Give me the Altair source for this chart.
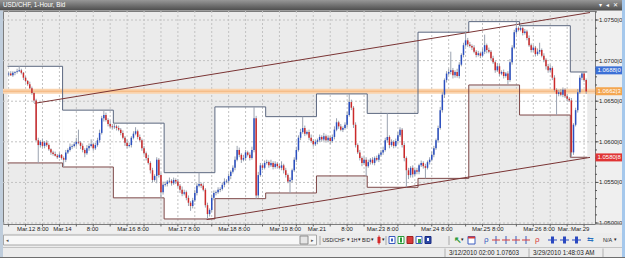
import altair as alt
import pandas as pd

FONT = "Liberation Sans"

# ---------------- data (prices in pips above 1.0000, e.g. 652 -> 1.0652) ----------------
first_open = 683
closes = [
    [684, 682, 685, 686, 687, 688, 685, 679, 675, 671, 666, 660, 651, 602, 596, 600, 595, 599, 596, 591, 587, 585, 583, 581, 584, 580],
    [578, 587, 590, 594, 595, 597, 600, 599, 595, 590, 586, 592, 595, 597, 592, 596, 602, 611, 629, 633, 627, 622, 619, 618],
    [619, 617, 615, 611, 605, 599, 595, 596, 605, 610, 613, 606, 602, 592, 586, 580, 574, 565, 553, 558, 578, 559, 538, 547],
    [548, 551, 552, 549, 553, 551, 546, 541, 536, 538, 531, 525, 521, 528, 537, 546, 548, 546, 541, 522, 511, 516, 531, 537],
    [538, 541, 542, 547, 551, 552, 558, 563, 568, 578, 590, 584, 578, 580, 587, 584, 580, 590, 629, 534, 559, 571, 568, 574],
    [575, 571, 574, 569, 573, 570, 568, 571, 565, 559, 551, 553, 565, 578, 590, 605, 612, 617, 610, 612, 605, 601, 597, 600],
    [602, 606, 603, 607, 602, 605, 601, 606, 615, 624, 619, 615, 617, 621, 633, 649, 642, 621, 596, 587, 580, 574, 578, 570],
    [575, 578, 574, 580, 578, 584, 587, 590, 602, 606, 596, 600, 595, 601, 608, 615, 596, 580, 565, 559, 568, 560, 565, 563],
    [571, 574, 570, 568, 575, 578, 584, 592, 602, 617, 639, 658, 676, 684, 686, 688, 682, 686, 681, 695, 707, 719, 725, 720],
    [718, 716, 711, 707, 709, 706, 711, 719, 713, 711, 703, 698, 688, 693, 684, 686, 681, 684, 676, 698, 716, 735, 740, 738],
    [740, 734, 736, 728, 719, 713, 716, 708, 711, 713, 706, 701, 693, 688, 691, 679, 664, 659, 661, 658, 664, 656, 653, 651],
    [587, 621, 639, 661, 679, 684, 676, 662],
]
wick_up = [
    [2, 3, 2, 1, 3, 5, 2, 1, 2, 1, 3, 2, 1, 2, 3, 2, 4, 2, 3, 2, 1, 2, 3, 2, 3, 1],
    [2, 3, 2, 4, 2, 3, 5, 15, 2, 3, 2, 4, 3, 6, 2, 3, 3, 4, 3, 6, 3, 2, 4, 3],
    [4, 2, 3, 2, 3, 2, 4, 3, 2, 3, 5, 2, 3, 2, 3, 2, 4, 2, 3, 2, 3, 2, 3, 4],
    [3, 2, 4, 2, 3, 2, 3, 2, 4, 3, 2, 3, 2, 3, 4, 3, 14, 2, 3, 2, 3, 2, 4, 3],
    [2, 3, 2, 3, 4, 2, 3, 2, 3, 4, 5, 3, 2, 4, 3, 2, 3, 4, 14, 3, 4, 3, 2, 3],
    [3, 2, 4, 2, 3, 2, 3, 5, 2, 3, 2, 3, 2, 3, 4, 3, 4, 14, 3, 2, 3, 4, 2, 3],
    [2, 3, 2, 4, 2, 3, 2, 3, 4, 5, 2, 3, 2, 3, 4, 10, 3, 2, 3, 2, 3, 2, 4, 3],
    [3, 2, 3, 2, 3, 2, 3, 4, 3, 29, 2, 3, 2, 3, 4, 3, 2, 3, 2, 3, 2, 3, 2, 3],
    [2, 3, 2, 3, 2, 3, 4, 3, 2, 3, 4, 3, 2, 3, 4, 23, 3, 2, 4, 3, 2, 3, 10, 3],
    [3, 2, 3, 2, 3, 2, 4, 13, 2, 3, 2, 3, 2, 4, 3, 2, 3, 2, 3, 4, 3, 3, 8, 2],
    [3, 2, 3, 2, 3, 2, 3, 2, 4, 9, 2, 3, 2, 3, 4, 2, 3, 2, 3, 4, 3, 2, 3, 2],
    [3, 2, 3, 4, 3, 2, 3, 2],
]
wick_dn = [
    [2, 1, 2, 3, 2, 1, 2, 3, 2, 2, 1, 2, 3, 1, 22, 3, 2, 3, 2, 2, 3, 2, 1, 2, 1, 2],
    [9, 3, 2, 2, 3, 2, 3, 2, 4, 3, 5, 2, 3, 2, 3, 2, 2, 3, 2, 4, 2, 3, 2, 3],
    [2, 3, 2, 3, 2, 4, 3, 2, 3, 2, 2, 3, 2, 3, 2, 3, 2, 4, 3, 2, 9, 3, 7, 3],
    [2, 3, 2, 3, 2, 3, 2, 4, 3, 2, 3, 4, 6, 3, 2, 3, 2, 3, 2, 3, 6, 3, 2, 3],
    [3, 2, 3, 2, 3, 2, 3, 4, 2, 3, 2, 3, 4, 2, 3, 2, 3, 2, 3, 4, 3, 2, 3, 2],
    [2, 3, 2, 3, 2, 3, 2, 3, 4, 3, 2, 14, 3, 2, 3, 2, 3, 2, 3, 2, 3, 2, 3, 2],
    [3, 2, 3, 2, 3, 2, 4, 2, 3, 2, 3, 2, 3, 2, 3, 2, 3, 4, 3, 2, 3, 4, 2, 12],
    [2, 3, 2, 3, 2, 3, 2, 3, 2, 3, 4, 2, 3, 2, 3, 2, 3, 4, 21, 5, 3, 4, 2, 3],
    [3, 2, 3, 13, 2, 3, 2, 3, 2, 3, 2, 3, 4, 3, 2, 3, 4, 3, 2, 3, 2, 3, 2, 3],
    [2, 3, 2, 3, 2, 3, 2, 3, 4, 2, 3, 2, 3, 2, 3, 2, 3, 2, 6, 2, 3, 2, 3, 2],
    [2, 3, 2, 3, 2, 3, 2, 3, 2, 3, 2, 3, 4, 3, 2, 3, 2, 26, 3, 2, 3, 2, 3, 2],
    [6, 3, 2, 3, 2, 3, 2, 3],
]
day_high = [693, 639, 623, 562, 643, 631, 659, 635, 735, 748, 743, 686]
day_low = [574, 569, 531, 505, 530, 537, 558, 544, 555, 670, 633, 581]

x_tick_pos = [3.9, 21.1, 36.9, 51.3, 75.4, 99.1, 123.3, 141.4, 157.2, 169.3, 194.9, 219.0, 243.2, 259.5]
x_tick_text = ["Mar.12 8:00", "Mar.14", "8:00", "Mar.16 8:00", "Mar.17 8:00", "Mar.18 8:00",
               "Mar.19 8:00", "Mar.21", "8:00", "Mar.23 8:00", "Mar.24 8:00", "Mar.25 8:00",
               "Mar.26 8:00", "Mar.:Mar.29"]
y_tick_vals = [1.0500, 1.0550, 1.0600, 1.0650, 1.0700, 1.0750]
y_tick_text = ["1.0500|0", "1.0550|0", "1.0600|0", "1.0650|0", "1.0700|0", "1.0750|0"]

trend_upper_x = [12.25, 274.8]
trend_upper_y = [1.06474, 1.07592]
trend_lower_x = [93.6, 274.8]
trend_lower_y = [1.05043, 1.05808]
bid_level = 1.06623

tag_vals = [1.06880, 1.06623, 1.05808]
tag_text = ["1.0688|0", "1.0662|3", "1.0580|8"]
tag_fill = ["#3b6fd6", "#f4a650", "#e03434"]

# ---------------- tables ----------------
rows = []
prev = first_open
idx = 0
starts = []
for cl, up, dn in zip(closes, wick_up, wick_dn):
    starts.append(idx)
    for c, u, w in zip(cl, up, dn):
        o = prev
        rows.append(dict(i=idx, o=1 + o / 1e4, c=1 + c / 1e4,
                         h=1 + (max(o, c) + u) / 1e4, l=1 + (min(o, c) - w) / 1e4,
                         dir="up" if c >= o else "down"))
        prev = c
        idx += 1
candles = pd.DataFrame(rows)

bx = [s - 0.5 for s in starts]
bx2 = [s + len(cl) - 0.5 for s, cl in zip(starts, closes)]
boxes = pd.DataFrame(dict(x=bx, x2=bx2, hi=[1 + v / 1e4 for v in day_high], lo=[1 + v / 1e4 for v in day_low]))
steps = pd.DataFrame(dict(x=bx + [bx2[-1]],
                          hi=[1 + v / 1e4 for v in day_high + [day_high[-1]]],
                          lo=[1 + v / 1e4 for v in day_low + [day_low[-1]]]))
trends = pd.DataFrame(dict(x=trend_upper_x + trend_lower_x, y=trend_upper_y + trend_lower_y,
                           g=["u", "u", "l", "l"]))
grid_x = pd.DataFrame({"g": list(range(0, 275, 8))})
grid_y = pd.DataFrame({"v": y_tick_vals})
minor_y = pd.DataFrame({"v": [round(1.050 + 0.001 * k, 3) for k in range(27)]})
ylab = pd.DataFrame({"v": y_tick_vals, "t": y_tick_text})
xlab = pd.DataFrame({"p": x_tick_pos, "t": x_tick_text})
tags = pd.DataFrame({"v": tag_vals, "t": tag_text, "f": tag_fill})
bid = pd.DataFrame({"v": [bid_level]})

W, H = 592, 213
XS = alt.Scale(domain=[-0.3, 274.8], nice=False, zero=False)
YS = alt.Scale(domain=[1.04988, 1.07611], nice=False, zero=False)


def X(f):
    return alt.X(f, type="quantitative", scale=XS, axis=None)


def Y(f):
    return alt.Y(f, type="quantitative", scale=YS, axis=None)


layers = []
layers.append(alt.Chart(boxes).mark_rect(fill="#ffffff").encode(
    x=X("x"), x2=alt.X2("x2"), y=Y("hi"), y2=alt.Y2("lo")))
layers.append(alt.Chart(grid_x).mark_rule(color="#c2c2c2", strokeDash=[2, 2], strokeWidth=1).encode(
    x=X("g"), y=alt.value(0), y2=alt.value(H)))
layers.append(alt.Chart(grid_y).mark_rule(color="#c2c2c2", strokeDash=[2, 2], strokeWidth=1).encode(
    y=Y("v"), x=alt.value(0), x2=alt.value(W)))
layers.append(alt.Chart(bid).mark_rule(color="#fad3ad", strokeWidth=5).encode(
    y=Y("v"), x=alt.value(0), x2=alt.value(W)))
layers.append(alt.Chart(bid).mark_rule(color="#f3b57c", strokeWidth=1).encode(
    y=Y("v"), x=alt.value(0), x2=alt.value(W)))
layers.append(alt.Chart(steps).mark_line(interpolate="step-after", color="#5c6880", strokeWidth=1).encode(
    x=X("x"), y=Y("hi")))
layers.append(alt.Chart(steps).mark_line(interpolate="step-after", color="#7e4848", strokeWidth=1).encode(
    x=X("x"), y=Y("lo")))
layers.append(alt.Chart(trends).mark_line(color="#7a3434", strokeWidth=1).encode(
    x=X("x"), y=Y("y"), detail="g:N"))
layers.append(alt.Chart(candles).mark_rule(color="#9aa2b0", strokeWidth=1).encode(
    x=X("i"), y=Y("l"), y2=alt.Y2("h")))
layers.append(alt.Chart(candles).mark_bar(size=1.5).encode(
    x=X("i"), y=Y("o"), y2=alt.Y2("c"),
    color=alt.Color("dir:N", scale=alt.Scale(domain=["up", "down"], range=["#2b4fc0", "#cc2a2a"]), legend=None)))

# right price axis
layers.append(alt.Chart(minor_y).mark_rule(color="#555555").encode(
    y=Y("v"), x=alt.value(W), x2=alt.value(W + 2)))
layers.append(alt.Chart(grid_y).mark_rule(color="#555555").encode(
    y=Y("v"), x=alt.value(W), x2=alt.value(W + 3.5)))
layers.append(alt.Chart(ylab).mark_text(align="left", baseline="middle", fontSize=6, font=FONT, color="#1e1e1e").encode(
    y=Y("v"), x=alt.value(W + 4), text="t:N"))
layers.append(alt.Chart(tags).mark_rule(strokeWidth=8).encode(
    y=Y("v"), x=alt.value(W + 0.5), x2=alt.value(W + 27), color=alt.Color("f:N", scale=None)))
layers.append(alt.Chart(tags).mark_text(align="left", baseline="middle", fontSize=6, font=FONT, color="#ffffff").encode(
    y=Y("v"), x=alt.value(W + 2.5), text="t:N"))

# x axis labels and ticks
layers.append(alt.Chart(grid_x).mark_rule(color="#666666").encode(
    x=X("g"), y=alt.value(H), y2=alt.value(H + 2.5)))
layers.append(alt.Chart(xlab).mark_text(align="left", baseline="middle", fontSize=6, font=FONT, color="#1e1e1e").encode(
    x=X("p"), y=alt.value(217.5), text="t:N"))

# ---------------- window chrome (absolute pixel coordinates) ----------------
OX, OY = 3, 11
one = pd.DataFrame({"k": [0]})


def R(x, x2, y, y2, fill, stroke=None, sw=1):
    kw = dict(fill=fill)
    if stroke:
        kw.update(stroke=stroke, strokeWidth=sw)
    return alt.Chart(one).mark_rect(**kw).encode(
        x=alt.value(x - OX), x2=alt.value(x2 - OX), y=alt.value(y - OY), y2=alt.value(y2 - OY))


def T(x, y, s, size=6, color="#1e1e1e", align="left", weight="normal"):
    return alt.Chart(one).mark_text(text=s, align=align, baseline="middle", fontSize=size, font=FONT,
                                    color=color, fontWeight=weight).encode(
        x=alt.value(x - OX), y=alt.value(y - OY))


def L(x, y, x2, y2, color, sw=1):
    return alt.Chart(one).mark_rule(color=color, strokeWidth=sw).encode(
        x=alt.value(x - OX), y=alt.value(y - OY), x2=alt.value(x2 - OX), y2=alt.value(y2 - OY))


title_grad = alt.LinearGradient(gradient="linear", x1=0, y1=0, x2=0, y2=1,
                                stops=[alt.GradientStop(offset=0, color="#979797"),
                                       alt.GradientStop(offset=1, color="#4c4c4c")])
chrome = [
    # cover bottom of right axis and continue axis line
    R(595.5, 622, 224.5, 233, "#efefef"),
    L(595, 224, 622, 224, "#7c7c7c"),
    # title bar
    alt.Chart(one).mark_rect(fill=title_grad).encode(
        x=alt.value(0 - OX), x2=alt.value(622 - OX), y=alt.value(0 - OY), y2=alt.value(10.5 - OY)),
    T(3, 5.3, "USD/CHF, 1-Hour, Bid", size=6.3, color="#ffffff"),
    T(600, 5.3, "▾", size=6, color="#ffffff", align="center"),
    T(607.5, 5.3, "◂", size=6, color="#ffffff", align="center"),
    T(615, 5.3, "✕", size=6, color="#ffffff", align="center"),
    # borders
    R(622, 625, 0, 258, "#a5c8ec"),
    R(0, 3, 10.5, 258, "#bfcddc"),
    # toolbar / status band
    R(3, 622, 233, 258, "#ececec"),
    L(3, 247.5, 622, 247.5, "#c4c4c4"),
    L(0, 257.5, 625, 257.5, "#6e6e6e"),
    # scrollbar
    R(3.5, 316.5, 235, 245, "#f7f7f7", "#a8a8a8"),
    T(6, 240, "◂", size=5, color="#555555"),
    R(300, 308, 236, 244, "#e6e6e6", "#8c8c8c"),
    T(311, 240, "▸", size=5, color="#555555"),
    # toolbar items
    L(320, 236, 320, 245, "#a8a8a8"),
    T(322.5, 240, "USD/CHF", size=5),
    T(346.5, 240, "▾", size=4.5),
    T(351, 240, "1H", size=5),
    T(358, 240, "▾", size=4.5),
    T(362, 240, "BID", size=5),
    T(371, 240, "▾", size=4.5),
    L(379, 235.5, 379, 244.5, "#d42a2a"),
    R(377.5, 380.5, 237, 243, "#d42a2a"),
    T(382, 240, "▾", size=4.5),
    L(386, 236, 386, 245, "#a8a8a8"),
    R(389, 395, 236.5, 243.5, "#ffffff", "#3a5cc0"),
    R(391, 393, 238.5, 241.5, "#3a5cc0"),
    R(398, 404, 236.5, 243.5, "#ffffff", "#2a9a3a"),
    R(400, 402, 237.5, 242.5, "#2a9a3a"),
    R(407, 413, 236.5, 243.5, "#d83a3a", "#a02020"),
    R(416, 422, 236.5, 243.5, "#ffffff", "#3a5cc0"),
    R(418, 421, 239, 243, "#3aa04a"),
    R(425, 431, 236.5, 243.5, "#2a48a8", "#1a2a80"),
    R(427, 429, 238, 241, "#ffffff"),
    L(449, 236, 449, 245, "#a8a8a8"),
    T(454, 240, "↖", size=9, color="#2a9a3a", weight="bold"),
    T(461, 240, "▾", size=4.5),
    R(468, 475, 236.5, 244, "#ffffff", "#3a5cc0"),
    R(468, 475, 236.5, 238.5, "#d83a3a"),
    T(484, 240, "ρ", size=8, color="#3a5cc0"),
    L(496, 236, 496, 244, "#3a5cc0"), L(492, 240, 500, 240, "#d83a3a"),
    L(506, 236, 506, 244, "#3a5cc0"), L(502, 240, 510, 240, "#d83a3a"),
    L(516, 236, 516, 244, "#3a5cc0"), L(512, 240, 520, 240, "#d83a3a"),
    L(526, 236, 526, 244, "#3a5cc0"), L(522, 240, 530, 240, "#d83a3a"),
    T(535, 240, "ρ", size=8, color="#d83a3a"),
    L(548, 240, 557, 240, "#2a48c0"), R(551, 554, 236.5, 243.5, "#2a48c0"),
    L(560, 240, 569, 240, "#2a48c0"), R(563, 566, 236.5, 243.5, "#2a48c0"),
    L(572, 240, 581, 240, "#2a48c0"), R(575, 578, 236.5, 243.5, "#2a48c0"),
    T(587, 240, "⇆", size=8, color="#2a70c0"),
    T(603, 240, "N/A", size=5.5),
    T(614, 240, "▾", size=4.5),
    # status bar
    L(445, 248.5, 445, 257, "#b0b0b0"),
    L(529, 248.5, 529, 257, "#b0b0b0"),
    L(603, 248.5, 603, 257, "#b0b0b0"),
    T(449, 252.5, "3/12/2010 02:00  1.07603", size=6.3),
    T(533, 252.5, "3/29/2010 1:48:03 AM", size=6.3),
]
layers.extend(chrome)

chart = alt.layer(*layers).properties(
    width=W, height=H,
    padding={"left": 3, "top": 11, "right": 30, "bottom": 34},
    autosize=alt.AutoSizeParams(type="none"),
    background="#efefef",
).configure_view(fill="#ebebeb", stroke="#7c7c7c", strokeWidth=1)

chart.save("out.html", embed_options={"renderer": "svg", "actions": False})
